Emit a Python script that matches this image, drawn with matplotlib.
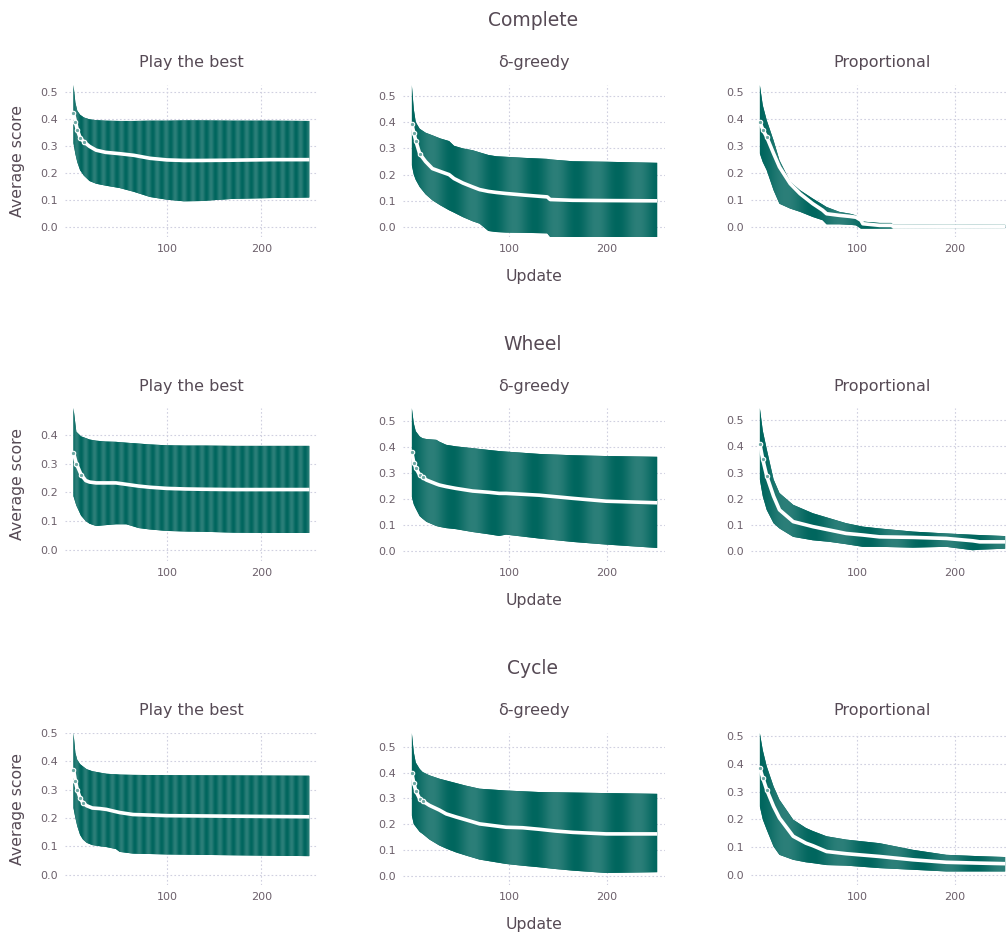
import numpy as np
import matplotlib.pyplot as plt
from matplotlib.colors import to_rgb

W, H = 1006, 933

networks = ["Complete", "Wheel", "Cycle"]
strategies = ["Play the best", "δ-greedy", "Proportional"]

# ---- Complete ----
complete_best_x = [1, 3, 5, 8, 12, 18, 25, 35, 50, 65, 82, 100, 118, 136, 170, 210, 251]
complete_best_hi = [0.525, 0.46, 0.43, 0.415, 0.405, 0.398, 0.395, 0.393, 0.392, 0.392, 0.393, 0.393, 0.394, 0.394, 0.393, 0.393, 0.392]
complete_best_mean = [0.42, 0.39, 0.36, 0.33, 0.315, 0.298, 0.284, 0.276, 0.271, 0.265, 0.254, 0.248, 0.246, 0.246, 0.247, 0.249, 0.249]
complete_best_lo = [0.31, 0.27, 0.24, 0.21, 0.19, 0.17, 0.16, 0.153, 0.144, 0.13, 0.111, 0.101, 0.095, 0.096, 0.104, 0.107, 0.109]

complete_greedy_x = [1, 3, 5, 9, 15, 22, 30, 39, 44, 53, 63, 70, 79, 87, 97, 115, 139, 142, 165, 200, 251]
complete_greedy_hi = [0.542, 0.45, 0.40, 0.375, 0.36, 0.35, 0.338, 0.328, 0.31, 0.30, 0.293, 0.285, 0.275, 0.27, 0.268, 0.264, 0.26, 0.258, 0.251, 0.249, 0.245]
complete_greedy_mean = [0.393, 0.36, 0.33, 0.28, 0.25, 0.223, 0.212, 0.2, 0.185, 0.168, 0.153, 0.143, 0.136, 0.132, 0.128, 0.122, 0.115, 0.105, 0.102, 0.101, 0.1]
complete_greedy_lo = [0.236, 0.2, 0.18, 0.153, 0.125, 0.102, 0.083, 0.064, 0.055, 0.038, 0.022, 0.013, -0.015, -0.019, -0.021, -0.022, -0.024, -0.038, -0.038, -0.038, -0.038]

complete_prop_x = [1, 4, 8, 15, 21, 32, 42, 55, 65, 69, 82, 93, 99, 104, 106, 123, 135, 137, 180, 251]
complete_prop_hi = [0.525, 0.45, 0.395, 0.32, 0.247, 0.167, 0.136, 0.105, 0.083, 0.074, 0.056, 0.049, 0.043, 0.025, 0.02, 0.015, 0.015, 0.008, 0.008, 0.008]
complete_prop_mean = [0.389, 0.36, 0.333, 0.272, 0.222, 0.16, 0.123, 0.086, 0.062, 0.049, 0.043, 0.039, 0.036, 0.025, 0.012, 0.006, 0.006, 0.002, 0.002, 0.002]
complete_prop_lo = [0.272, 0.24, 0.21, 0.136, 0.086, 0.068, 0.056, 0.037, 0.025, 0.01, 0.01, 0.008, 0.006, -0.006, -0.006, -0.006, -0.006, -0.004, -0.004, -0.004]

# ---- Wheel ----
wheel_best_x = [1, 4, 9, 14, 18, 25, 35, 46, 57, 70, 82, 100, 120, 140, 171, 210, 251]
wheel_best_hi = [0.492, 0.41, 0.394, 0.388, 0.383, 0.379, 0.376, 0.375, 0.372, 0.369, 0.366, 0.363, 0.362, 0.362, 0.361, 0.361, 0.361]
wheel_best_mean = [0.337, 0.30, 0.262, 0.241, 0.236, 0.233, 0.233, 0.233, 0.228, 0.222, 0.218, 0.214, 0.212, 0.211, 0.21, 0.21, 0.21]
wheel_best_lo = [0.187, 0.155, 0.12, 0.101, 0.092, 0.084, 0.087, 0.09, 0.09, 0.077, 0.072, 0.067, 0.065, 0.064, 0.061, 0.06, 0.06]

wheel_greedy_x = [1, 3, 5, 9, 12, 16, 26, 29, 36, 46, 63, 80, 90, 97, 131, 165, 199, 251]
wheel_greedy_hi = [0.549, 0.49, 0.46, 0.44, 0.433, 0.43, 0.427, 0.42, 0.408, 0.402, 0.395, 0.388, 0.384, 0.382, 0.373, 0.368, 0.365, 0.362]
wheel_greedy_mean = [0.379, 0.34, 0.32, 0.292, 0.283, 0.273, 0.258, 0.254, 0.248, 0.241, 0.231, 0.226, 0.222, 0.222, 0.215, 0.203, 0.192, 0.186]
wheel_greedy_lo = [0.209, 0.18, 0.164, 0.135, 0.125, 0.113, 0.097, 0.094, 0.089, 0.085, 0.074, 0.065, 0.059, 0.064, 0.049, 0.036, 0.026, 0.013]

wheel_prop_x = [1, 4, 8, 15, 21, 35, 55, 72, 89, 106, 123, 157, 191, 218, 225, 251]
wheel_prop_hi = [0.546, 0.46, 0.39, 0.274, 0.222, 0.177, 0.145, 0.126, 0.107, 0.094, 0.087, 0.075, 0.068, 0.063, 0.062, 0.058]
wheel_prop_mean = [0.409, 0.35, 0.287, 0.21, 0.158, 0.113, 0.094, 0.081, 0.068, 0.062, 0.055, 0.053, 0.049, 0.04, 0.036, 0.036]
wheel_prop_lo = [0.274, 0.21, 0.158, 0.107, 0.087, 0.055, 0.042, 0.036, 0.027, 0.017, 0.017, 0.014, 0.017, 0.004, 0.006, 0.01]

# ---- Cycle ----
cycle_best_x = [1, 3, 5, 8, 11, 15, 21, 29, 36, 46, 50, 64, 100, 171, 251]
cycle_best_hi = [0.5, 0.43, 0.405, 0.39, 0.382, 0.372, 0.365, 0.36, 0.356, 0.354, 0.353, 0.352, 0.351, 0.35, 0.349]
cycle_best_mean = [0.371, 0.33, 0.30, 0.27, 0.253, 0.243, 0.235, 0.233, 0.23, 0.222, 0.219, 0.212, 0.208, 0.206, 0.204]
cycle_best_lo = [0.235, 0.2, 0.171, 0.14, 0.124, 0.112, 0.104, 0.1, 0.097, 0.09, 0.08, 0.074, 0.071, 0.068, 0.065]

cycle_greedy_x = [1, 3, 5, 9, 12, 19, 29, 36, 46, 56, 70, 97, 114, 131, 148, 165, 199, 251]
cycle_greedy_hi = [0.555, 0.48, 0.44, 0.415, 0.403, 0.39, 0.377, 0.37, 0.36, 0.35, 0.338, 0.331, 0.328, 0.325, 0.324, 0.323, 0.321, 0.318]
cycle_greedy_mean = [0.399, 0.36, 0.33, 0.299, 0.29, 0.273, 0.255, 0.24, 0.228, 0.217, 0.201, 0.188, 0.186, 0.18, 0.173, 0.168, 0.162, 0.162]
cycle_greedy_lo = [0.234, 0.2, 0.19, 0.17, 0.162, 0.14, 0.117, 0.105, 0.09, 0.078, 0.062, 0.045, 0.038, 0.032, 0.025, 0.019, 0.01, 0.013]

cycle_prop_x = [1, 4, 8, 15, 21, 35, 48, 55, 69, 89, 123, 157, 191, 225, 251]
cycle_prop_hi = [0.512, 0.45, 0.392, 0.319, 0.271, 0.199, 0.169, 0.158, 0.139, 0.127, 0.114, 0.09, 0.072, 0.067, 0.064]
cycle_prop_mean = [0.386, 0.35, 0.307, 0.247, 0.205, 0.139, 0.114, 0.105, 0.084, 0.076, 0.066, 0.054, 0.045, 0.042, 0.04]
cycle_prop_lo = [0.247, 0.2, 0.163, 0.102, 0.072, 0.054, 0.045, 0.042, 0.035, 0.033, 0.024, 0.018, 0.012, 0.012, 0.012]

panels = [
    [(complete_best_x, complete_best_lo, complete_best_mean, complete_best_hi),
     (complete_greedy_x, complete_greedy_lo, complete_greedy_mean, complete_greedy_hi),
     (complete_prop_x, complete_prop_lo, complete_prop_mean, complete_prop_hi)],
    [(wheel_best_x, wheel_best_lo, wheel_best_mean, wheel_best_hi),
     (wheel_greedy_x, wheel_greedy_lo, wheel_greedy_mean, wheel_greedy_hi),
     (wheel_prop_x, wheel_prop_lo, wheel_prop_mean, wheel_prop_hi)],
    [(cycle_best_x, cycle_best_lo, cycle_best_mean, cycle_best_hi),
     (cycle_greedy_x, cycle_greedy_lo, cycle_greedy_mean, cycle_greedy_hi),
     (cycle_prop_x, cycle_prop_lo, cycle_prop_mean, cycle_prop_hi)],
]

TITLE_C, TICK_C, GRID_C = "#564A55", "#6C606B", "#D0D0E0"
DARK, LIGHT = np.array(to_rgb("#00665E")), np.array(to_rgb("#2C7F79"))
stripe_period = [9.5, 42, 55]

row_top = [85, 408, 733]
row_bot = [237, 561, 885]
row_title_y = [21, 344, 668]
col_lr = [(65, 317), (403, 665), (751, 1013)]

fig = plt.figure(figsize=(W / 100, H / 100), dpi=100)

def px(x, y):
    return x / W, 1 - y / H

for r in range(3):
    fig.text(*px(533, row_title_y[r]), networks[r], ha="center", va="center",
             fontsize=13.5, color=TITLE_C)
    fig.text(*px(18, (row_top[r] + row_bot[r]) / 2), "Average score", rotation=90,
             ha="center", va="center", fontsize=11.3, color=TITLE_C)
    fig.text(*px(534, row_bot[r] + 40), "Update", ha="center", va="center",
             fontsize=11.3, color=TITLE_C)
    for c in range(3):
        l, rr = col_lr[c]
        ax = fig.add_axes([l / W, 1 - row_bot[r] / H, (rr - l) / W, (row_bot[r] - row_top[r]) / H])
        x, lo, mean, hi = (np.array(v, dtype=float) for v in panels[r][c])
        ytop = hi.max()
        ybot = min(-0.037, lo.min())

        # band: polygon through upper then lower edge, filled with vertical stripes
        poly = ax.fill(np.r_[x, x[::-1]], np.r_[hi, lo[::-1]], color=DARK, lw=0, zorder=2)[0]
        xs = np.linspace(x[0], x[-1], 800)
        t = 0.5 + 0.5 * np.cos(2 * np.pi * xs / stripe_period[c])
        img = (DARK[None, :] * t[:, None] + LIGHT[None, :] * (1 - t[:, None]))[None, :, :]
        im = ax.imshow(img, extent=(x[0], x[-1], ybot, ytop), aspect="auto",
                       interpolation="bilinear", zorder=3)
        im.set_clip_path(poly)

        ax.plot(x, mean, color="white", lw=2.6, zorder=4, solid_capstyle="butt")
        ax.plot(x, mean, ls="none", marker="o", ms=3.2, mfc="#6fa9a4", mec="white",
                mew=0.8, markevery=list(x <= 12), zorder=5)

        ax.set_xlim(-8, 259)
        ax.set_ylim(ybot, ytop)
        ax.set_xticks([100, 200])
        yt = np.arange(0, ytop + 1e-9, 0.1)
        ax.set_yticks(yt)
        ax.set_yticklabels([f"{v:.1f}" for v in yt])
        ax.tick_params(length=0, labelsize=8, labelcolor=TICK_C, pad=5)
        ax.grid(True, color=GRID_C, ls=(0, (1.5, 2)), lw=0.8, zorder=0)
        ax.set_axisbelow(True)
        for s in ax.spines.values():
            s.set_visible(False)
        fig.text(*px((l + rr) / 2, row_top[r] - 22), strategies[c], ha="center",
                 va="center", fontsize=11.5, color=TITLE_C)

fig.savefig("out.png", dpi=100)
